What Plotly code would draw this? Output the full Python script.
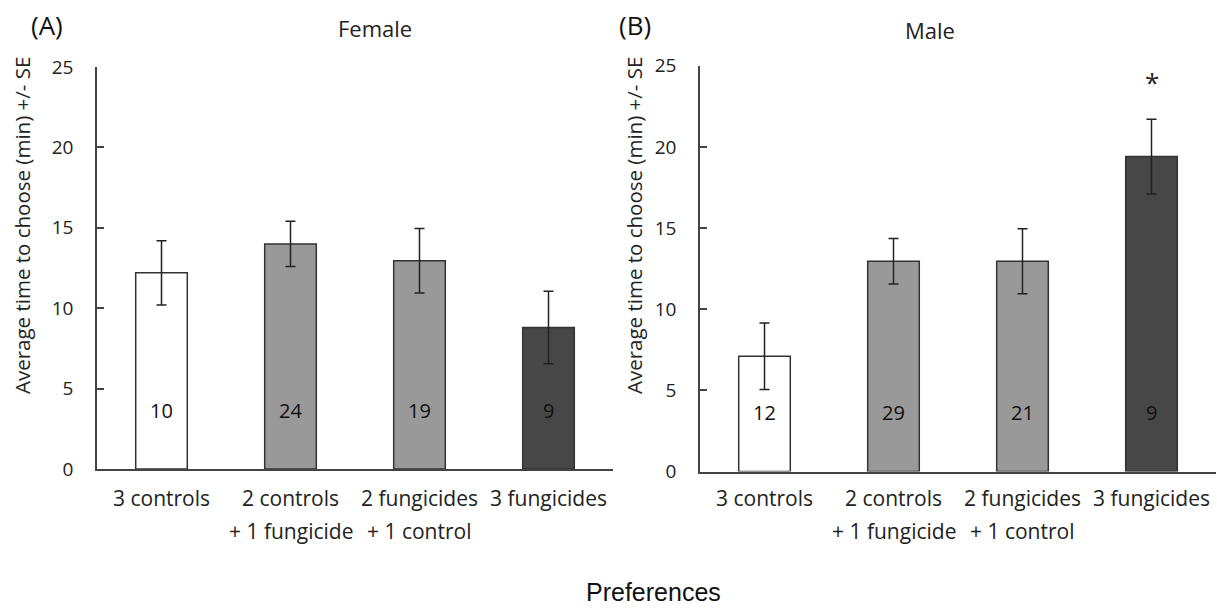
import plotly.graph_objects as go

categories_line1 = ["3 controls", "2 controls", "2 fungicides", "3 fungicides"]
categories_line2 = ["", "+ 1 fungicide", "+ 1 control", ""]
categories = ["3 controls", "2 controls + 1 fungicide", "2 fungicides + 1 control", "3 fungicides"]

female_mean = [12.2, 14.0, 12.95, 8.8]
female_se = [2.0, 1.4, 2.0, 2.25]
female_n = ["10", "24", "19", "9"]

male_mean = [7.1, 12.95, 12.95, 19.4]
male_se = [2.05, 1.4, 2.0, 2.3]
male_n = ["12", "29", "21", "9"]

yticks = [0, 5, 10, 15, 20, 25]
bar_colors = ["#ffffff", "#999999", "#999999", "#474747"]

FONT = "Open Sans"
W, H = 1217, 608

fig = go.Figure()

panels = [
    ("x", "y", female_mean, female_se, female_n),
    ("x2", "y2", male_mean, male_se, male_n),
]

for xa, ya, mean, se, n in panels:
    fig.add_trace(go.Bar(
        x=categories, y=mean, xaxis=xa, yaxis=ya, width=0.4,
        marker=dict(color=bar_colors, line=dict(color="#333333", width=1.5)),
        error_y=dict(type="data", array=se, visible=True, color="#222222",
                     thickness=1.5, width=5),
        showlegend=False, hoverinfo="x+y",
    ))
    for c, lbl in zip(categories, n):
        fig.add_annotation(x=c, y=3.65, xref=xa, yref=ya, text=lbl, showarrow=False,
                           yanchor="middle",
                           font=dict(family=FONT, size=20, color="#111111"))
    for c, l1, l2 in zip(categories, categories_line1, categories_line2):
        fig.add_annotation(x=c, y=(H - 498) / H, xref=xa, yref="paper", text=l1,
                           showarrow=False, yanchor="middle",
                           font=dict(family=FONT, size=21, color="#222222"))
        if l2:
            fig.add_annotation(x=c, y=(H - 531) / H, xref=xa, yref="paper", text=l2,
                               showarrow=False, yanchor="middle",
                               font=dict(family=FONT, size=21, color="#222222"))

# significance marker
fig.add_annotation(x=categories[3], y=24.0, xref="x2", yref="y2", text="*",
                   showarrow=False, yanchor="middle",
                   font=dict(family=FONT, size=26, color="#222222"))

# panel titles and tags
fig.add_annotation(x=336 / W, y=(H - 28) / H, xref="paper", yref="paper", text="Female",
                   showarrow=False, yanchor="middle",
                   font=dict(family=FONT, size=22, color="#222222"))
fig.add_annotation(x=957 / W, y=(H - 30) / H, xref="paper", yref="paper", text="Male",
                   showarrow=False, yanchor="middle",
                   font=dict(family=FONT, size=22, color="#222222"))
fig.add_annotation(x=29 / W, y=(H - 25) / H, xref="paper", yref="paper", text="(A)",
                   showarrow=False, yanchor="middle",
                   font=dict(family=FONT, size=26, color="#111111"))
fig.add_annotation(x=635 / W, y=(H - 25) / H, xref="paper", yref="paper", text="(B)",
                   showarrow=False, yanchor="middle",
                   font=dict(family=FONT, size=26, color="#111111"))

# y titles
for xpix in (22, 634):
    fig.add_annotation(x=xpix / W, y=(H - 226) / H, xref="paper", yref="paper",
                       text="Average time to choose (min) +/- SE", textangle=-90,
                       showarrow=False, xanchor="center", yanchor="middle",
                       font=dict(family=FONT, size=20.5, color="#222222"))

fig.add_annotation(x=653 / W, y=(H - 592) / H, xref="paper", yref="paper", text="Preferences",
                   showarrow=False, yanchor="middle",
                   font=dict(family="Liberation Sans", size=25, color="#111111"))

xcommon = dict(showticklabels=False, ticks="", showline=True, linecolor="#444444",
               linewidth=1.5, range=[-0.5, 3.5], showgrid=False, zeroline=False,
               automargin=False, fixedrange=True)
ycommon = dict(range=[0, 25], tickvals=yticks, ticks="inside", ticklen=7, tickwidth=1.5,
               tickcolor="#444444", showline=True, linecolor="#444444", linewidth=1.5,
               showgrid=False, zeroline=False, ticklabelstandoff=18, automargin=False,
               tickfont=dict(family=FONT, size=19, color="#222222"))

fig.update_layout(
    template="none",
    width=W, height=H, margin=dict(l=0, r=0, t=0, b=0, autoexpand=False),
    paper_bgcolor="white", plot_bgcolor="white",
    xaxis=dict(domain=[97 / W, 613 / W], anchor="y", **xcommon),
    xaxis2=dict(domain=[700 / W, 1216 / W], anchor="y2", **xcommon),
    yaxis=dict(domain=[(H - 469) / H, (H - 67) / H], anchor="x", **ycommon),
    yaxis2=dict(domain=[(H - 471.5) / H, (H - 65.7) / H], anchor="x2", **ycommon),
    bargap=0.6,
)

fig.write_html("out.html", config={"displayModeBar": False},
               post_script="document.body.style.margin='0';document.body.style.overflow='hidden';")
